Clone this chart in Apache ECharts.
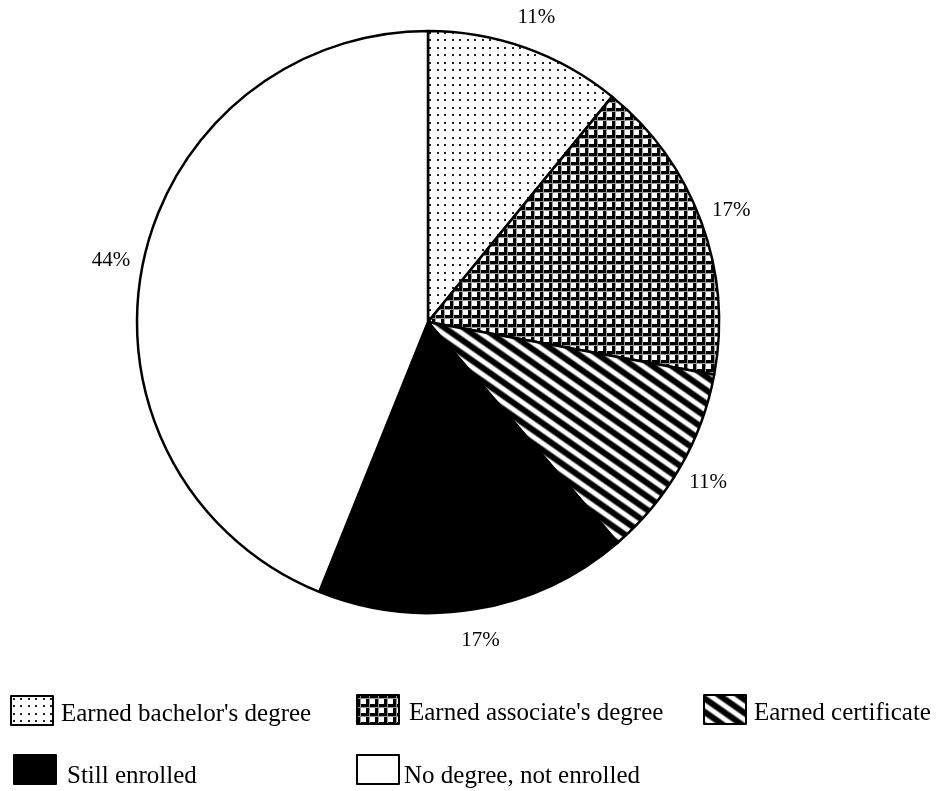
<!DOCTYPE html>
<html>
<head>
<meta charset="utf-8">
<script src="https://cdn.jsdelivr.net/npm/echarts@6/dist/echarts.min.js"></script>
<style>
html,body{margin:0;padding:0;background:#fff;}
#chart{width:938px;height:791px;}
</style>
</head>
<body>
<div id="chart"></div>
<script>
// ---- data ----
const categories = ["Earned bachelor's degree", "Earned associate's degree", "Earned certificate", "Still enrolled", "No degree, not enrolled"];
const values = [10.9, 17.0, 10.8, 17.4, 43.9];

// ---- fill patterns ----
function makeCanvas(w, h, draw) {
  const c = document.createElement('canvas');
  c.width = w; c.height = h;
  const ctx = c.getContext('2d');
  ctx.fillStyle = '#fff';
  ctx.fillRect(0, 0, w, h);
  draw(ctx);
  return c;
}
const dotsTile = makeCanvas(15, 15, ctx => {
  ctx.fillStyle = '#222';
  [[2,2],[9,2],[2,9],[9,9]].forEach(p => ctx.fillRect(p[0], p[1], 2, 2));
});
const gridTile = makeCanvas(9, 9, ctx => {
  ctx.fillStyle = '#000';
  ctx.fillRect(0, 0, 9, 3);
  ctx.fillRect(0, 0, 3, 9);
  ctx.fillStyle = '#999';
  ctx.fillRect(0, 3, 9, 1);
  ctx.fillRect(3, 0, 1, 9);
});
const stripeTile = makeCanvas(4, 11, ctx => {
  ctx.fillStyle = '#000';
  ctx.fillRect(0, 0, 4, 5);
  ctx.fillStyle = '#777';
  ctx.fillRect(0, 5, 4, 1);
  ctx.fillRect(0, 10, 4, 1);
});
const fills = [
  { image: dotsTile, repeat: 'repeat' },
  { image: gridTile, repeat: 'repeat' },
  { image: stripeTile, repeat: 'repeat', rotation: 35 * Math.PI / 180 },
  '#000',
  '#fff'
];

const font = 'Liberation Serif, Times New Roman, serif';
const center = [428, 322];

const mainData = categories.map((n, i) => ({ name: n, value: values[i], itemStyle: { color: fills[i] } }));
const labelData = categories.map((n, i) => ({ name: n, value: values[i] }));

const legendPos = [
  { left: 10, top: 695, shift: 8, gap: 3 },
  { left: 356, top: 694, shift: 8, gap: 5 },
  { left: 703, top: 694, shift: 8, gap: 3 },
  { left: 13, top: 754, shift: 14, gap: 6 },
  { left: 356, top: 754, shift: 14, gap: 0 }
];
const legends = categories.map((n, i) => ({
  data: [n],
  left: legendPos[i].left,
  top: legendPos[i].top,
  orient: 'horizontal',
  padding: 0,
  itemWidth: 42,
  itemHeight: 29,
  icon: 'rect',
  selectedMode: false,
  formatter: name => '{t|' + name + '}',
  textStyle: {
    fontFamily: font, fontSize: 25, color: '#000',
    rich: { t: { fontFamily: font, fontSize: 25, color: '#000', padding: [legendPos[i].shift, 0, 0, legendPos[i].gap] } }
  }
}));

const chart = echarts.init(document.getElementById('chart'), null, { renderer: 'canvas' });
chart.setOption({
  backgroundColor: '#fff',
  animation: false,
  legend: legends,
  series: [
    {
      type: 'pie',
      center: center,
      radius: 291,
      startAngle: 90,
      clockwise: true,
      data: mainData,
      label: { show: false },
      labelLine: { show: false },
      itemStyle: { borderColor: '#000', borderWidth: 2.5 },
      emphasis: { disabled: true },
      silent: true
    },
    {
      type: 'pie',
      center: center,
      radius: [307, 333],
      startAngle: 90,
      clockwise: true,
      data: labelData,
      itemStyle: { color: 'rgba(0,0,0,0)', borderWidth: 0 },
      label: {
        show: true,
        position: 'inside',
        formatter: p => Math.round(p.value) + '%',
        fontFamily: font,
        fontSize: 21,
        color: '#000'
      },
      labelLine: { show: false },
      emphasis: { disabled: true },
      silent: true
    }
  ]
});
</script>
</body>
</html>
